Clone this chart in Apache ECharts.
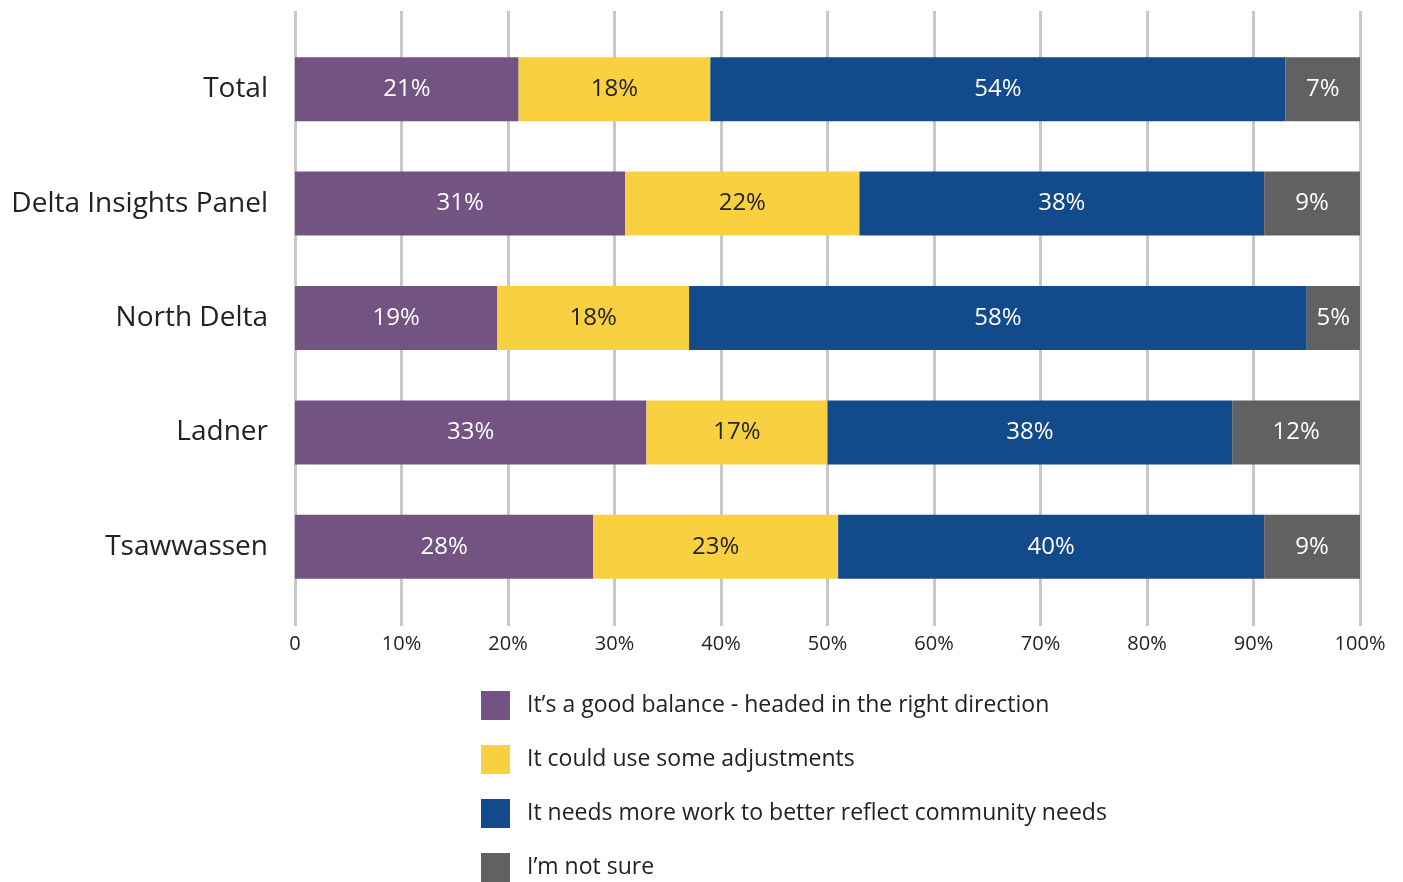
<!DOCTYPE html>
<html><head><meta charset="utf-8">
<script src="https://cdn.jsdelivr.net/npm/echarts@6/dist/echarts.min.js"></script>
<style>html,body{margin:0;padding:0;background:#fff}#c{width:1403px;height:882px}</style>
</head><body><div id="c"></div>
<script>
const categories = ['Total', 'Delta Insights Panel', 'North Delta', 'Ladner', 'Tsawwassen'];
const seriesNames = [
  'It\u2019s a good balance - headed in the right direction',
  'It could use some adjustments',
  'It needs more work to better reflect community needs',
  'I\u2019m not sure'
];
const goodBalance = [21, 31, 19, 33, 28];
const adjustments = [18, 22, 18, 17, 23];
const moreWork = [54, 38, 58, 38, 40];
const notSure = [7, 9, 5, 12, 9];
const tickLabels = ['0', '10%', '20%', '30%', '40%', '50%', '60%', '70%', '80%', '90%', '100%'];

const colors = ['#725381', '#F8D040', '#134A8B', '#616161'];
const labelColors = ['#ffffff', '#222222', '#ffffff', '#ffffff'];
const values = [goodBalance, adjustments, moreWork, notSure];
const FONT = 'Open Sans';

const chart = echarts.init(document.getElementById('c'), null, {renderer: 'canvas'});
chart.setOption({
  animation: false,
  textStyle: {fontFamily: FONT},
  grid: [
    {left: 295, right: 43, top: 32, bottom: 278},
    {left: 295, right: 43, top: 11, bottom: 256}
  ],
  legend: {
    orient: 'vertical', left: 481, top: 691, height: 200, padding: 0,
    itemWidth: 29, itemHeight: 29, itemGap: 25,
    icon: 'rect',
    textStyle: {fontFamily: FONT, fontSize: 23, color: '#222', padding: [4, 0, 0, 12]},
    data: seriesNames
  },
  xAxis: [
    {gridIndex: 0, type: 'value', min: 0, max: 100, show: false},
    {gridIndex: 1, type: 'value', min: 0, max: 100, interval: 10,
     axisLine: {show: false}, axisTick: {show: false},
     splitLine: {show: true, lineStyle: {color: '#c8c8c8', width: 3}},
     axisLabel: {fontFamily: FONT, fontSize: 20, color: '#222', margin: 8,
       formatter: function (v) { return tickLabels[Math.round(v / 10)]; }}}
  ],
  yAxis: [
    {gridIndex: 0, type: 'category', data: categories, inverse: true,
     axisLine: {show: false}, axisTick: {show: false}, splitLine: {show: false},
     axisLabel: {fontFamily: FONT, fontSize: 28, color: '#222', margin: 27}},
    {gridIndex: 1, type: 'category', data: categories, show: false}
  ],
  series: seriesNames.map(function (name, i) {
    return {
      name: name, type: 'bar', stack: 'total', xAxisIndex: 0, yAxisIndex: 0,
      barWidth: 64, z: 5,
      itemStyle: {color: colors[i]},
      label: {show: true, position: 'inside', formatter: '{c}%',
        fontFamily: FONT, fontSize: 24, color: labelColors[i]},
      data: values[i]
    };
  })
});
</script></body></html>
